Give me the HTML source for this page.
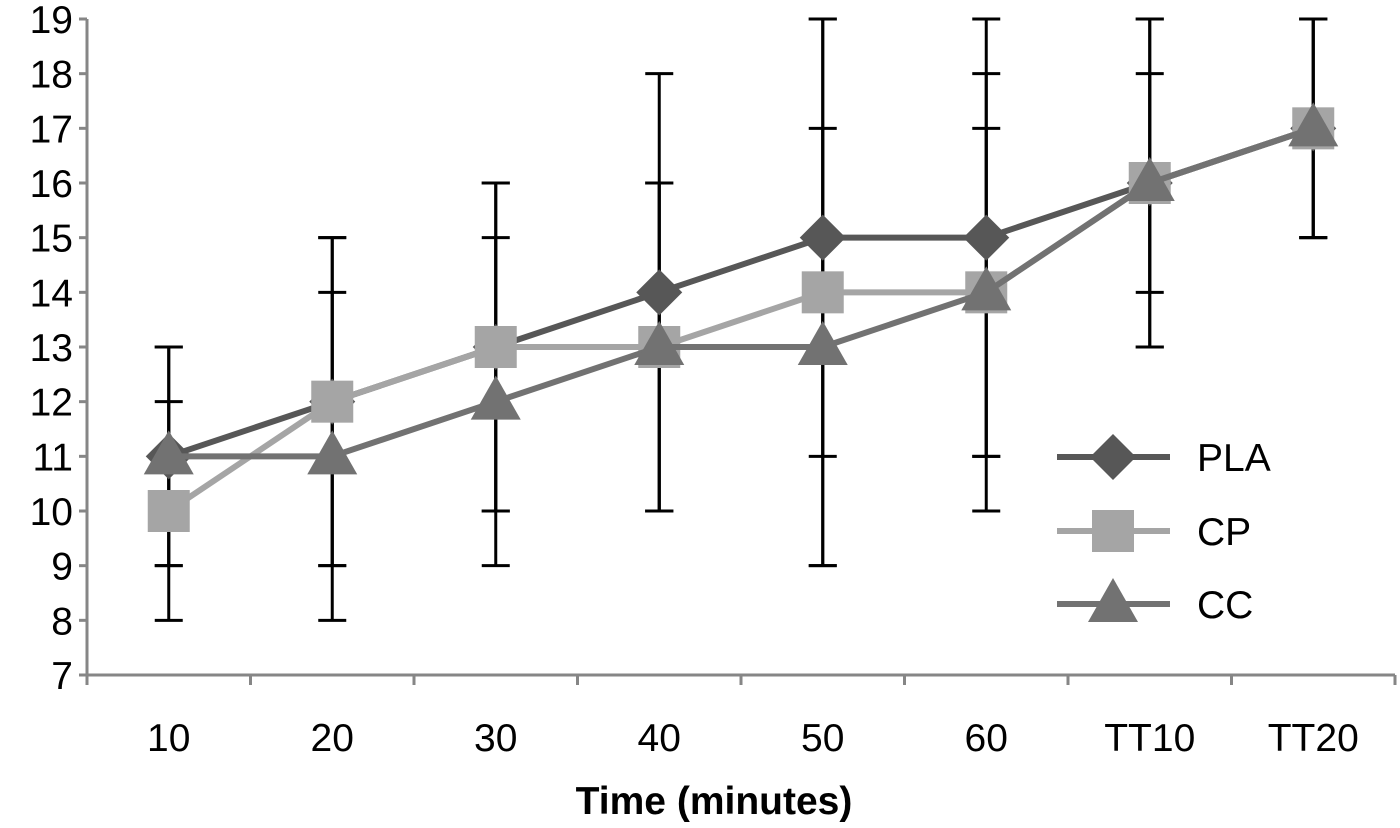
<!DOCTYPE html>
<html><head><meta charset="utf-8"><style>
html,body{margin:0;padding:0;background:#fff;}
svg{display:block;font-family:"Liberation Sans",sans-serif;}
</style></head><body>
<svg id="chart" width="1400" height="828" xmlns="http://www.w3.org/2000/svg"></svg>
<script>
const categories = ["10","20","30","40","50","60","TT10","TT20"];
const yTicks = [7,8,9,10,11,12,13,14,15,16,17,18,19];
const plaValues = [11,12,13,14,15,15,16,17];
const cpValues  = [10,12,13,13,14,14,16,17];
const ccValues  = [11,11,12,13,13,14,16,17];
const plaErr = [2,3,3,4,4,4,3,2];
const cpErr  = [2,3,3,3,5,4,2,2];
const ccErr  = [2,3,3,3,4,3,3,2];

const NS="http://www.w3.org/2000/svg";
const svg=document.getElementById('chart');
const x0=87,x1=1395,yMin=7,yMax=19,yB=675,yT=19;
const bw=(x1-x0)/categories.length;
const X=i=>x0+bw*(i+0.5);
const Y=v=>yB-(v-yMin)/(yMax-yMin)*(yB-yT);
function mk(tag,attrs,parent){const e=document.createElementNS(NS,tag);for(const k in attrs)e.setAttribute(k,attrs[k]);(parent||svg).appendChild(e);return e;}

const axes=mk('g',{});


mk('line',{x1:x0,y1:yT,x2:x0,y2:yB,stroke:'#868686','stroke-width':3},axes);
mk('line',{x1:x0,y1:yB,x2:x1,y2:yB,stroke:'#868686','stroke-width':3},axes);
yTicks.forEach(t=>{
  mk('line',{x1:x0-8,y1:Y(t),x2:x0,y2:Y(t),stroke:'#868686','stroke-width':3},axes);
  const tx=mk('text',{x:x0-14,y:Y(t)+14,'text-anchor':'end','font-size':39,fill:'#000'},axes);
  tx.textContent=t;
  
  
});
for(let i=0;i<=categories.length;i++){
  mk('line',{x1:x0+bw*i,y1:yB,x2:x0+bw*i,y2:yB+10,stroke:'#868686','stroke-width':3},axes);
}
categories.forEach((c,i)=>{
  const tx=mk('text',{x:X(i),y:751,'text-anchor':'middle','font-size':39,fill:'#000'},axes);
  tx.textContent=c;
  
  
});
const title=mk('text',{x:714,y:814,'text-anchor':'middle','font-size':39,'font-weight':'bold',fill:'#000'});
title.textContent='Time (minutes)';



const series=[
  {name:'pla',vals:plaValues,err:plaErr,color:'#575757',marker:'diamond'},
  {name:'cp',vals:cpValues,err:cpErr,color:'#a5a5a5',marker:'square'},
  {name:'cc',vals:ccValues,err:ccErr,color:'#727272',marker:'triangle'}
];
const eb=mk('g',{});


series.forEach(s=>{
  s.vals.forEach((v,i)=>{
    const x=X(i),a=Y(v+s.err[i]),b=Y(v-s.err[i]);
    mk('line',{x1:x,y1:a,x2:x,y2:b,stroke:'#000','stroke-width':3},eb);
    mk('line',{x1:x-14,y1:a,x2:x+14,y2:a,stroke:'#000','stroke-width':3},eb);
    mk('line',{x1:x-14,y1:b,x2:x+14,y2:b,stroke:'#000','stroke-width':3},eb);
  });
});

function marker(type,x,y,color,g){
  if(type==='diamond') return mk('polygon',{points:`${x},${y-23} ${x+23},${y} ${x},${y+23} ${x-23},${y}`,fill:color},g);
  if(type==='square') return mk('rect',{x:x-21,y:y-21,width:42,height:42,fill:color},g);
  return mk('polygon',{points:`${x},${y-26} ${x+25},${y+18} ${x-25},${y+18}`,fill:color},g);
}
series.forEach(s=>{
  const g=mk('g',{});
  
  
  mk('polyline',{points:s.vals.map((v,i)=>X(i)+','+Y(v)).join(' '),fill:'none',stroke:s.color,'stroke-width':6,'stroke-linejoin':'round'},g);
  s.vals.forEach((v,i)=>{
    const m=marker(s.marker,X(i),Y(v),s.color,g);
    
    
  });
});

const lg=mk('g',{});


const labels=['PLA','CP','CC'];
[457,531,604].forEach((ly,i)=>{
  const s=series[i];
  const e=mk('g',{},lg);
  
  
  mk('line',{x1:1057,y1:ly,x2:1170,y2:ly,stroke:s.color,'stroke-width':6},e);
  marker(s.marker,1113,ly,s.color,e);
  const t=mk('text',{x:1197,y:ly+14,'font-size':39,fill:'#000'},e);
  t.textContent=labels[i];
});
</script>
</body></html>
